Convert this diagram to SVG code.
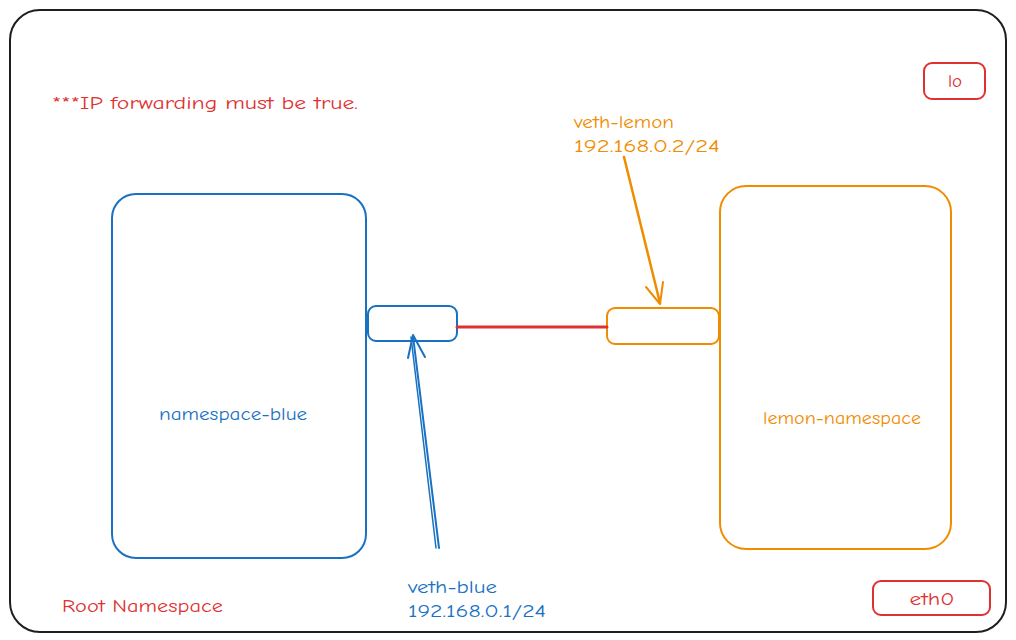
<svg xmlns="http://www.w3.org/2000/svg" width="1016" height="640" viewBox="0 0 1016 640">
<defs>
<style>
.t{font-family:"Comic Neue","Liberation Sans",sans-serif;font-size:19px}
.blue{fill:#1971c2}.orange{fill:#f08c00}.red{fill:#e03131}
.box{fill:none;stroke-width:2;stroke-linecap:round;stroke-linejoin:round}
</style>
</defs>
<rect width="1016" height="640" fill="#ffffff"/>
<g id="root">
<rect x="10" y="10" width="996" height="622" rx="30" class="box" stroke="#1e1e1e"/>
<text class="t red" x="62" y="612" textLength="161" lengthAdjust="spacingAndGlyphs">Root Namespace</text>
</g>
<g id="note">
<text class="t red" x="52" y="109" textLength="306" lengthAdjust="spacingAndGlyphs">***IP forwarding must be true.</text>
</g>
<g id="lo">
<rect x="924" y="63" width="61" height="36" rx="8" class="box" stroke="#e03131"/>
<text class="t red" x="955" y="87" text-anchor="middle">lo</text>
</g>
<g id="eth0">
<rect x="873" y="581" width="117" height="34" rx="8" class="box" stroke="#e03131"/>
<text class="t red" x="932" y="605" text-anchor="middle" textLength="45" lengthAdjust="spacingAndGlyphs">eth0</text>
</g>
<g id="namespace-blue">
<rect x="112" y="194" width="254" height="364" rx="24" class="box" stroke="#1971c2"/>
<text class="t blue" x="233" y="420" text-anchor="middle" textLength="148" lengthAdjust="spacingAndGlyphs">namespace-blue</text>
</g>
<g id="veth-blue-if">
<rect x="368" y="306" width="89" height="35" rx="8" class="box" stroke="#1971c2"/>
</g>
<g id="lemon-namespace">
<rect x="720" y="186" width="231" height="363" rx="26" class="box" stroke="#f08c00"/>
<text class="t orange" x="842" y="424" text-anchor="middle" textLength="158" lengthAdjust="spacingAndGlyphs">lemon-namespace</text>
</g>
<g id="veth-lemon-if">
<rect x="607" y="308" width="112" height="36" rx="8" class="box" stroke="#f08c00"/>
</g>
<g id="veth-blue-label">
<text class="t blue" x="408" y="593" textLength="89" lengthAdjust="spacingAndGlyphs">veth-blue</text>
<text class="t blue" x="408" y="617" textLength="138" lengthAdjust="spacingAndGlyphs">192.168.0.1/24</text>
</g>
<g id="veth-lemon-label">
<text class="t orange" x="574" y="128" textLength="100" lengthAdjust="spacingAndGlyphs">veth-lemon</text>
<text class="t orange" x="574" y="152" textLength="146" lengthAdjust="spacingAndGlyphs">192.168.0.2/24</text>
</g>
<g id="connectors" fill="none" stroke-linecap="round" stroke-linejoin="round">
<line x1="457" y1="327" x2="607" y2="327" stroke="#e03131" stroke-width="3"/>
<path d="M439,548 L413,336" stroke="#1971c2" stroke-width="2"/>
<path d="M436,548 L411,337" stroke="#1971c2" stroke-width="1.5"/>
<path d="M408,358 L413,335 L425,357" stroke="#1971c2" stroke-width="2"/>
<path d="M624,157 L660,303" stroke="#f08c00" stroke-width="2.5"/>
<path d="M646,287 L660,304 L663,282" stroke="#f08c00" stroke-width="2"/>
</g>
</svg>
